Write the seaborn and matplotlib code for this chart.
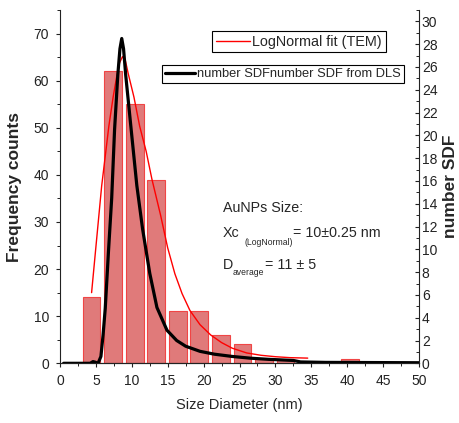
"""Size distribution of AuNPs: TEM histogram with LogNormal fit and DLS number SDF."""

import matplotlib

matplotlib.use("Agg")
import matplotlib.pyplot as plt
import seaborn as sns
from matplotlib.lines import Line2D
from matplotlib.ticker import MultipleLocator

# TEM histogram (left axis)
bar_centers = [4.4, 7.4, 10.4, 13.4, 16.4, 19.4, 22.4, 25.4, 28.4, 31.4, 40.4]
bar_counts = [14, 62, 55, 39, 11, 11, 6, 4, 1, 0.6, 1]

# LogNormal fit (TEM), left axis
fit_x = [4.4, 5.0, 5.8, 6.8, 7.4, 7.9, 8.3, 8.7, 9.1, 9.5, 10.3, 11.1, 12.0,
         12.8, 14.0, 15.0, 16.0, 17.0, 18.1, 19.5, 21.0, 22.5, 24.0, 26.0,
         28.0, 30.0, 32.0, 34.5]
fit_y = [15, 24.7, 37.6, 50.3, 56.5, 60.9, 63.8, 65.1, 64.3, 61.5, 56.5,
         50.3, 45, 39.1, 31.5, 24.5, 19, 14.8, 11.2, 8.2, 6.0, 4.4, 3.2, 2.2,
         1.7, 1.4, 1.2, 1.1]

# number SDF from DLS, right axis
dls_x = [0.5, 4.2, 4.6, 4.9, 5.3, 5.7, 6.0, 6.3, 6.75, 7.2, 7.6, 8.05, 8.35,
         8.6, 8.85, 9.15, 9.85, 10.7, 11.5, 12.5, 13.5, 14.9, 16.25, 17.5,
         19.5, 21.5, 24.0, 26.5, 29.0, 32.5, 33.5, 37.0, 50.0]
dls_y = [0.0, 0.0, 0.15, 0.1, 0.0, 0.6, 2.5, 4.8, 9.8, 14.5, 20.5, 25.3,
         27.6, 28.5, 27.6, 25.3, 20.9, 15.6, 11.8, 7.9, 4.9, 2.9, 2.0, 1.5,
         1.05, 0.8, 0.6, 0.45, 0.35, 0.25, 0.12, 0.08, 0.05]

W, H = 459, 423


def _fx(px):
    return px / W


def _fy(py):
    return 1 - py / H


def _main() -> None:
    sns.set_style("ticks")
    plt.rcParams["font.family"] = ["Liberation Sans", "DejaVu Sans"]
    tick_font = ["Liberation Sans Narrow", "Liberation Sans"]

    fig = plt.figure(figsize=(W / 100, H / 100), dpi=100)
    ax = fig.add_axes([_fx(60), _fy(363.3), _fx(359), (363.3 - 10) / H])
    ax2 = ax.twinx()

    sns.barplot(x=bar_centers, y=bar_counts, native_scale=True, width=0.82,
                color="#E07A7A", saturation=1, edgecolor="#F04545",
                linewidth=0.8, errorbar=None, ax=ax)
    sns.lineplot(x=fit_x, y=fit_y, color="#FF0000", linewidth=1.0, ax=ax)
    sns.lineplot(x=dls_x, y=dls_y, color="black", linewidth=2.3, ax=ax2)

    ax.set_xlim(0, 50)
    ax.set_ylim(0, 75)
    ax2.set_ylim(0, 31)
    ax.xaxis.set_major_locator(MultipleLocator(5))
    ax.xaxis.set_minor_locator(MultipleLocator(2.5))
    ax.yaxis.set_major_locator(MultipleLocator(10))
    ax.yaxis.set_minor_locator(MultipleLocator(5))
    ax2.yaxis.set_major_locator(MultipleLocator(2))
    ax2.yaxis.set_minor_locator(MultipleLocator(1))

    for a in (ax, ax2):
        a.spines["top"].set_visible(False)
        for s in a.spines.values():
            s.set_linewidth(0.8)
            s.set_color("#222222")
    ax.spines["right"].set_visible(False)
    ax2.spines["left"].set_visible(False)

    ax.tick_params(axis="both", which="major", direction="out", length=3,
                   width=0.8, pad=5, labelsize=10, colors="#222222")
    ax.tick_params(axis="both", which="minor", direction="out", length=2,
                   width=0.7, colors="#222222")
    ax2.tick_params(axis="y", which="major", direction="in", length=3,
                    width=0.8, pad=2, labelsize=10, colors="#222222")
    ax2.tick_params(axis="y", which="minor", direction="in", length=2,
                    width=0.7, colors="#222222")
    for lab in ax.get_xticklabels() + ax.get_yticklabels() + ax2.get_yticklabels():
        lab.set_family(tick_font)

    ax.set_xlabel("Size Diameter (nm)", fontsize=10.5, labelpad=7)
    ax.set_ylabel("Frequency counts", fontsize=12.5, fontweight="bold",
                  labelpad=8)
    ax2.set_ylabel("number SDF", fontsize=12.5, fontweight="bold", labelpad=4)

    if ax.get_legend() is not None:
        ax.get_legend().remove()
    h1 = Line2D([], [], color="#FF0000", linewidth=1.0)
    h2 = Line2D([], [], color="black", linewidth=2.3)
    leg_kw = dict(loc="upper left", frameon=True, fancybox=False,
                  framealpha=1, edgecolor="black", borderaxespad=0,
                  borderpad=0.25, handletextpad=0.15)
    leg1 = ax2.legend([h1], ["LogNormal fit (TEM)"], fontsize=10.4,
                      handlelength=2.4,
                      bbox_to_anchor=(152 / 359, (363.3 - 31) / 353.3),
                      **leg_kw)
    leg1.get_frame().set_linewidth(0.8)
    ax2.add_artist(leg1)
    leg2 = ax2.legend([h2], ["number SDFnumber SDF from DLS"], fontsize=9.3,
                      handlelength=2.3,
                      bbox_to_anchor=(102 / 359, (363.3 - 65) / 353.3),
                      **leg_kw)
    leg2.get_frame().set_linewidth(0.8)

    fs, sub = 10.3, 6.2
    fig.text(_fx(223), _fy(212), "AuNPs Size:", fontsize=fs, va="baseline")
    fig.text(_fx(223), _fy(237), "Xc", fontsize=fs, va="baseline")
    fig.text(_fx(244), _fy(245), "(LogNormal)", fontsize=sub, va="baseline")
    fig.text(_fx(293), _fy(237), "= 10\u00b10.25 nm", fontsize=fs,
             va="baseline")
    fig.text(_fx(223), _fy(269), "D", fontsize=fs, va="baseline")
    fig.text(_fx(233), _fy(275), "average", fontsize=sub, va="baseline")
    fig.text(_fx(265), _fy(269), "= 11 \u00b1 5", fontsize=fs, va="baseline")

    fig.savefig("out.png", dpi=100, facecolor="white")


if __name__ == "__main__":
    _main()
